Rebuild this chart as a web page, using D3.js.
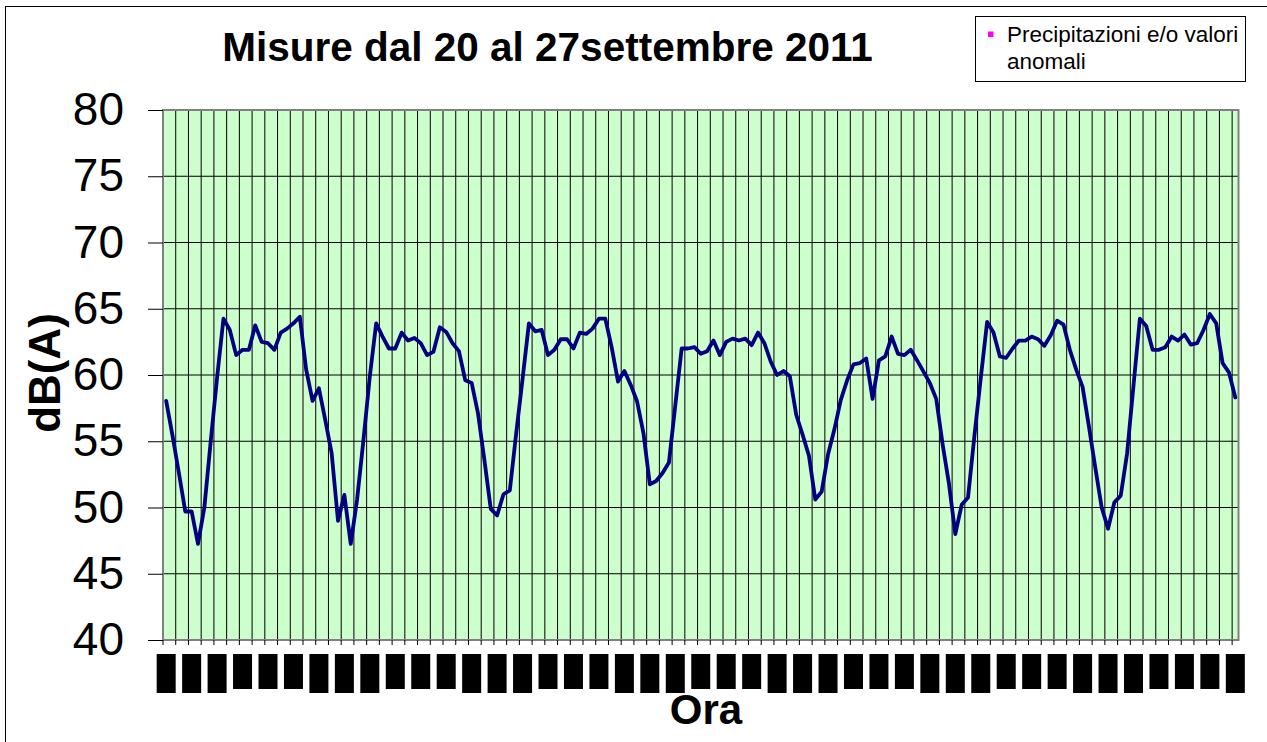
<!DOCTYPE html>
<html><head><meta charset="utf-8">
<script src="https://cdn.jsdelivr.net/npm/d3@7"></script>
<style>body{margin:0;background:#fff}svg{display:block}text{font-family:"Liberation Sans",Arial,sans-serif}</style>
</head><body>
<svg id="c" width="1267" height="742"></svg>
<script>
// ---- data ----
const title = "Misure dal 20 al 27settembre 2011";
const yLabel = "dB(A)";
const xLabel = "Ora";
const legendLines = ["Precipitazioni e/o valori", "anomali"];
const legendColor = "#FF00FF";
const yTicks = [40, 45, 50, 55, 60, 65, 70, 75, 80];
const values = [
 58.05,55.4,52.6,49.7,49.7,47.25,50,55,59.8,64.25,63.4,61.5,61.9,61.9,63.75,62.5,62.4,61.9,63.2,63.5,63.9,64.4,60.4,58.05,
 59,56.6,54.1,49,50.95,47.25,50.6,55.1,59.9,63.9,62.9,62,62,63.2,62.6,62.8,62.4,61.5,61.75,63.6,63.25,62.4,61.8,59.6,
 59.4,57.1,53.6,49.9,49.4,51,51.3,55.6,59.7,63.9,63.3,63.4,61.5,61.9,62.7,62.7,62,63.2,63.1,63.5,64.25,64.25,62.1,59.5,
 60.3,59.25,58,55.6,51.75,52,52.6,53.4,57.7,62,62,62.1,61.6,61.8,62.6,61.5,62.5,62.75,62.6,62.75,62.25,63.2,62.4,61,
 60,60.3,59.9,57,55.5,53.9,50.6,51.2,54,55.9,58.1,59.6,60.8,60.9,61.25,58.2,61.1,61.4,62.9,61.6,61.5,61.9,61.1,60.25,
 59.4,58.2,54.8,51.8,48,50.2,50.75,55.4,59.75,64,63.2,61.4,61.3,62,62.6,62.6,62.9,62.7,62.2,63.0,64.1,63.8,61.9,60.4,
 59.1,56.1,53,50,48.4,50.4,50.9,54.1,59.2,64.25,63.7,61.9,61.9,62.1,62.9,62.6,63.05,62.3,62.4,63.4,64.6,63.9,60.9,60.2,
 58.3
];
const categories = values.map((_, i) => i); // hourly samples

// ---- layout ----
const svg = d3.select("#c");
const L = 163, R = 1238.5, T = 110, B = 640;
const x = d3.scaleBand().domain(categories).range([L, R]).padding(0);
const bw = x.bandwidth();
const y = d3.scaleLinear().domain([40, 80]).range([B, T]);

// outer border
svg.append("rect").attr("x", 5.5).attr("y", 6.5).attr("width", 1275).attr("height", 750)
  .attr("fill", "none").attr("stroke", "#000").attr("stroke-width", 1);

// plot background
svg.append("rect").attr("x", L).attr("y", T).attr("width", R - L).attr("height", B - T)
  .attr("fill", "#CCFFCC");

// vertical grid
const gridCats = categories.filter(c => c > 0 && c % 2 === 0);
svg.append("g").selectAll("line").data(gridCats).join("line")
  .attr("x1", d => x(d)).attr("x2", d => x(d)).attr("y1", T).attr("y2", B)
  .attr("stroke", "#000").attr("stroke-width", 1);

// horizontal grid
svg.append("g").selectAll("line").data(yTicks).join("line")
  .attr("x1", L).attr("x2", R).attr("y1", d => y(d)).attr("y2", d => y(d))
  .attr("stroke", "#000").attr("stroke-width", 1);

// plot border
svg.append("rect").attr("x", L).attr("y", T).attr("width", R - L).attr("height", B - T)
  .attr("fill", "none").attr("stroke", "#808080").attr("stroke-width", 2);

// y axis
const yAxis = d3.axisLeft(y).tickValues(yTicks).tickSize(15).tickPadding(24).tickFormat(d3.format("d"));
const gy = svg.append("g").attr("transform", `translate(${L},0)`).call(yAxis);
gy.select(".domain").remove();
gy.selectAll(".tick line").attr("stroke", "#000");
gy.selectAll(".tick text").attr("font-size", 46).attr("fill", "#000")
  .style("font-family", '"Liberation Sans", Arial, sans-serif');

// x ticks
const tickCats = categories.filter(c => c % 2 === 0);
svg.append("g").selectAll("line").data(tickCats).join("line")
  .attr("x1", d => x(d)).attr("x2", d => x(d)).attr("y1", B).attr("y2", B + 5)
  .attr("stroke", "#000").attr("stroke-width", 1);

// x tick labels (rendered as solid blocks in the reference)
const labelCats = categories.filter(c => c % 4 === 0);
svg.append("g").selectAll("rect").data(labelCats).join("rect")
  .attr("x", d => x(d) + bw / 2 - 9.5).attr("y", 654)
  .attr("width", 19)
  .attr("height", (d, i) => (Math.floor(i / 3) % 2 === 0 ? 39 : 35))
  .attr("fill", "#000");

// line
const line = d3.line().x((d, i) => x(categories[i]) + bw / 2).y(d => y(d));
svg.append("path").datum(values).attr("d", line)
  .attr("fill", "none").attr("stroke", "#000080").attr("stroke-width", 3.8)
  .attr("stroke-linejoin", "round").attr("stroke-linecap", "round");

// title
svg.append("text").attr("x", 547.5).attr("y", 61).attr("text-anchor", "middle")
  .attr("font-size", 40.5).attr("font-weight", "bold").text(title);

// axis titles
svg.append("text").attr("x", 706).attr("y", 724).attr("text-anchor", "middle")
  .attr("font-size", 42).attr("font-weight", "bold").text(xLabel);
svg.append("text").attr("transform", "translate(60,373) rotate(-90)").attr("text-anchor", "middle")
  .attr("font-size", 44).attr("font-weight", "bold").text(yLabel);

// legend
svg.append("rect").attr("x", 975.5).attr("y", 16.5).attr("width", 270).attr("height", 65)
  .attr("fill", "#fff").attr("stroke", "#000").attr("stroke-width", 1);
svg.append("rect").attr("x", 988).attr("y", 31.5).attr("width", 5.5).attr("height", 5.5).attr("fill", legendColor);
svg.append("g").selectAll("text").data(legendLines).join("text")
  .attr("x", 1007).attr("y", (d, i) => 42 + i * 26.5)
  .attr("font-size", 22.5).attr("fill", "#000").text(d => d);
</script>
</body></html>
